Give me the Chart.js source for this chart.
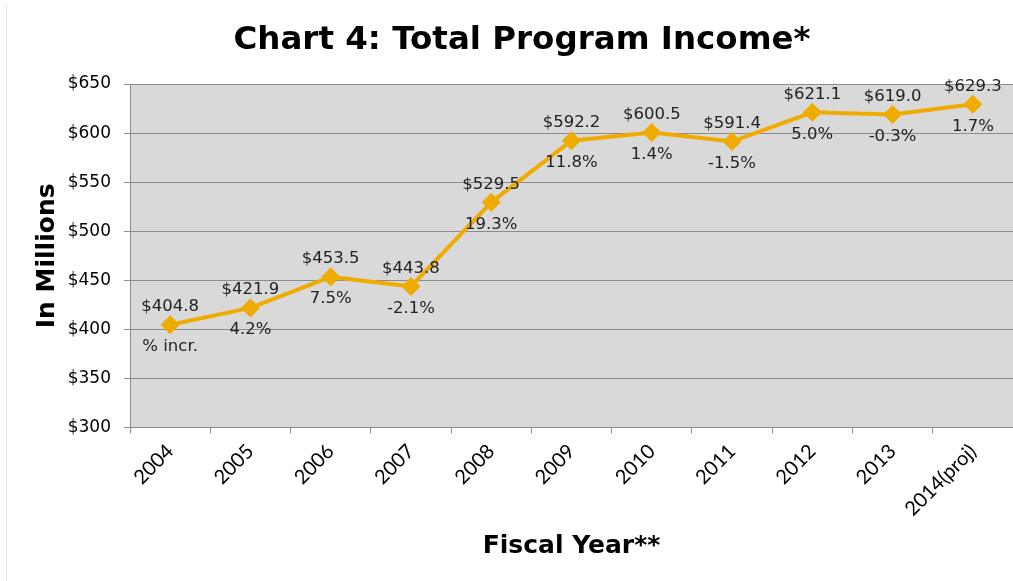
<!DOCTYPE html>
<html>
<head>
<meta charset="utf-8">
<script src="https://cdn.jsdelivr.net/npm/chart.js@4/dist/chart.umd.min.js"></script>
<style>
  body { margin: 0; background: #fff; }
  #wrap { width: 1013px; height: 581px; }
</style>
</head>
<body>
<div id="wrap"><canvas id="incomeChart" width="1013" height="581"></canvas></div>
<script>
// fiscal years and total program income ($ millions)
const years = ['2004', '2005', '2006', '2007', '2008', '2009', '2010', '2011', '2012', '2013', '2014(proj)'];
const income = [404.8, 421.9, 453.5, 443.8, 529.5, 592.2, 600.5, 591.4, 621.1, 619.0, 629.3];
// year-over-year change, shown under each point
const pctLabels = ['% incr.', '4.2%', '7.5%', '-2.1%', '19.3%', '11.8%', '1.4%', '-1.5%', '5.0%', '-0.3%', '1.7%'];
const chartTitle = 'Chart 4: Total Program Income*';

const lineColor = 'rgb(240, 171, 0)';
const gridColor = 'rgb(140, 140, 140)';
const labelFont = 'DejaVu Sans';

// gray plot background, faint frame edge and the title (a bit right of center)
const plotBg = {
  id: 'plotBg',
  beforeDraw(chart) {
    const a = chart.chartArea;
    const ctx = chart.ctx;
    ctx.save();
    ctx.strokeStyle = '#e6e6e6';
    ctx.lineWidth = 1;
    ctx.beginPath();
    ctx.moveTo(6.5, 4);
    ctx.lineTo(6.5, chart.height);
    ctx.stroke();
    ctx.fillStyle = '#d9d9d9';
    ctx.fillRect(a.left, a.top, a.right - a.left, a.bottom - a.top);
    ctx.fillStyle = '#000';
    ctx.font = 'bold 32.5px "' + labelFont + '"';
    ctx.textAlign = 'center';
    ctx.textBaseline = 'middle';
    ctx.fillText(chartTitle, 522, 41);
    ctx.restore();
  }
};

// dollar value above each point, percent change below
const pointLabels = {
  id: 'pointLabels',
  afterDatasetsDraw(chart) {
    const ctx = chart.ctx;
    const pts = chart.getDatasetMeta(0).data;
    ctx.save();
    ctx.font = '16.5px "' + labelFont + '"';
    ctx.fillStyle = '#222';
    ctx.textAlign = 'center';
    ctx.textBaseline = 'middle';
    pts.forEach(function (p, i) {
      ctx.fillText('$' + income[i].toFixed(1), p.x, p.y - 18);
      ctx.fillText(pctLabels[i], p.x, p.y + 22);
    });
    ctx.restore();
  }
};

const config = {
  type: 'line',
  data: {
    labels: years,
    datasets: [{
      data: income,
      borderColor: lineColor,
      backgroundColor: lineColor,
      borderWidth: 4,
      pointStyle: 'rectRot',
      pointRadius: 9,
      pointBorderWidth: 1,
      pointBackgroundColor: lineColor,
      pointBorderColor: lineColor,
      tension: 0,
      clip: false
    }]
  },
  options: {
    responsive: false,
    animation: false,
    layout: { autoPadding: false, padding: { left: 0, right: 0, top: 84, bottom: 0 } },
    plugins: {
      legend: { display: false },
      tooltip: { enabled: false },
      title: { display: false }
    },
    scales: {
      x: {
        offset: true,
        // let the plot run to the right edge
        afterFit: function (scale) { scale.paddingRight = 0; },
        grid: { offset: true, drawOnChartArea: false, tickLength: 6, tickColor: gridColor },
        border: { color: gridColor },
        ticks: {
          color: '#000',
          font: { family: 'Lato', size: 20 },
          minRotation: 45,
          maxRotation: 45,
          padding: 6
        },
        title: {
          display: true,
          text: 'Fiscal Year**',
          color: '#000',
          font: { family: labelFont, size: 25, weight: 'bold', lineHeight: 1.2 },
          padding: { top: 4, bottom: 20 }
        }
      },
      y: {
        min: 300,
        max: 650,
        // fixed axis width so the plot starts at x=130
        afterFit: function (scale) { scale.width = 130; },
        grid: { color: gridColor, tickLength: 6, tickColor: gridColor },
        border: { color: gridColor },
        ticks: {
          stepSize: 50,
          color: '#000',
          font: { family: labelFont, size: 17 },
          padding: 13,
          callback: function (v) { return '$' + v; }
        },
        title: {
          display: true,
          text: 'In Millions',
          color: '#000',
          font: { family: labelFont, size: 25, weight: 'bold', lineHeight: 1.2 },
          padding: { top: 32, bottom: 0 }
        }
      }
    }
  },
  plugins: [plotBg, pointLabels]
};

const incomeChart = new Chart(document.getElementById('incomeChart'), config);
</script>
</body>
</html>
